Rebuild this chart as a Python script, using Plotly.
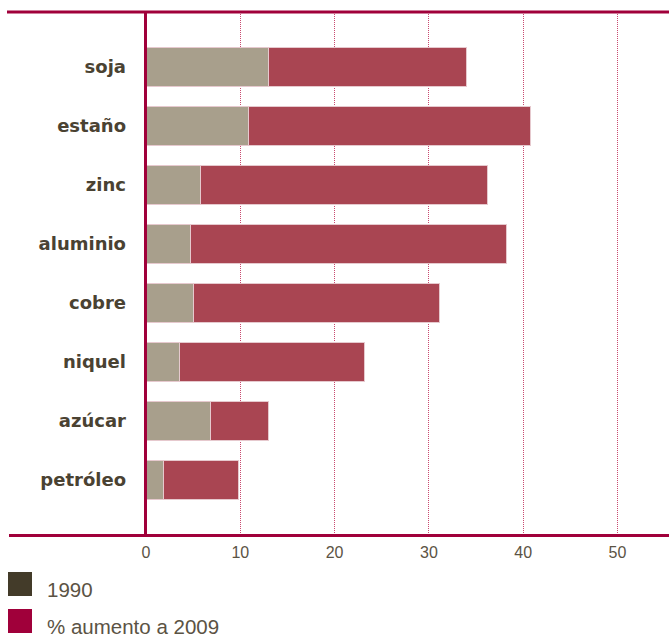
import plotly.graph_objects as go

# Commodity categories, top to bottom
categories = ["soja", "estaño", "zinc", "aluminio", "cobre", "niquel", "azúcar", "petróleo"]
# 1990 base values
values_1990 = [13.0, 10.9, 5.8, 4.7, 5.0, 3.6, 6.8, 1.9]
# Increase up to 2009 (stacked on the 1990 base)
values_increase = [21.0, 29.85, 30.4, 33.5, 26.1, 19.6, 6.2, 7.9]
tick_values = [0, 10, 20, 30, 40, 50]
legend_labels = ["1990", "% aumento a 2009"]

GRAY_BAR = "#a89f8c"
RED_BAR = "#a94552"
LEG_DARK = "#433b29"
LEG_RED = "#a0003a"
AXIS_RED = "#a0003a"
TEXT = "#4a4232"

W, H = 669, 637
ML, MR, MT, MB = 146, 0, 12, 102
PW = W - ML - MR
PH = H - MT - MB

fig = go.Figure()
fig.add_trace(go.Bar(
    y=categories, x=values_1990, orientation="h", name=legend_labels[0],
    marker=dict(color=GRAY_BAR, line=dict(color="#e6c9ce", width=1)),
    width=0.66, showlegend=False,
))
fig.add_trace(go.Bar(
    y=categories, x=values_increase, orientation="h", name=legend_labels[1],
    marker=dict(color=RED_BAR, line=dict(color="#e6c9ce", width=1)),
    width=0.66, showlegend=False,
))

def px_x(p):
    return (p - ML) / PW

def px_y(p):
    return 1 - (p - MT) / PH

shapes = [
    # top rule
    dict(type="line", xref="paper", yref="paper", x0=px_x(7), x1=px_x(669),
         y0=px_y(12), y1=px_y(12), line=dict(color=AXIS_RED, width=3)),
    # bottom rule
    dict(type="line", xref="paper", yref="paper", x0=px_x(9), x1=px_x(669),
         y0=px_y(535.5), y1=px_y(535.5), line=dict(color=AXIS_RED, width=3)),
    # vertical zero axis
    dict(type="line", xref="paper", yref="paper", x0=px_x(145.5), x1=px_x(145.5),
         y0=px_y(12), y1=px_y(535.5), line=dict(color=AXIS_RED, width=3)),
]

annotations = []
legend_colors = [LEG_DARK, LEG_RED]
legend_tops = [572, 609]
for label, col, top in zip(legend_labels, legend_colors, legend_tops):
    shapes.append(dict(type="rect", xref="paper", yref="paper",
                       x0=px_x(8), x1=px_x(32), y0=px_y(top + 24), y1=px_y(top),
                       fillcolor=col, line=dict(width=0)))
    annotations.append(dict(xref="paper", yref="paper", x=px_x(46), y=px_y(top + 17),
                            text=label, showarrow=False, xanchor="left", yanchor="middle",
                            borderpad=0,
                            font=dict(family="Liberation Sans, Arial", size=20.5, color="#5b5344")))

fig.update_layout(
    width=W, height=H,
    margin=dict(l=ML, r=MR, t=MT, b=MB),
    paper_bgcolor="white", plot_bgcolor="white",
    barmode="stack",
    shapes=shapes, annotations=annotations,
    xaxis=dict(
        range=[0, (W - ML) / 9.43], tickvals=tick_values,
        showgrid=True, gridcolor="#c94a70", griddash="1px,1px", gridwidth=1,
        zeroline=False, showline=False, ticks="", ticklabelstandoff=6,
        tickfont=dict(family="Liberation Sans, Arial", size=16, color="#5b5344"),
    ),
    yaxis=dict(
        categoryorder="array", categoryarray=categories,
        range=[7.93, -0.93], showgrid=False, zeroline=False, showline=False,
        ticks="", ticklabelstandoff=19,
        tickfont=dict(family="DejaVu Sans", size=18, color=TEXT, weight="bold"),
    ),
)

fig.write_html("out.html")
